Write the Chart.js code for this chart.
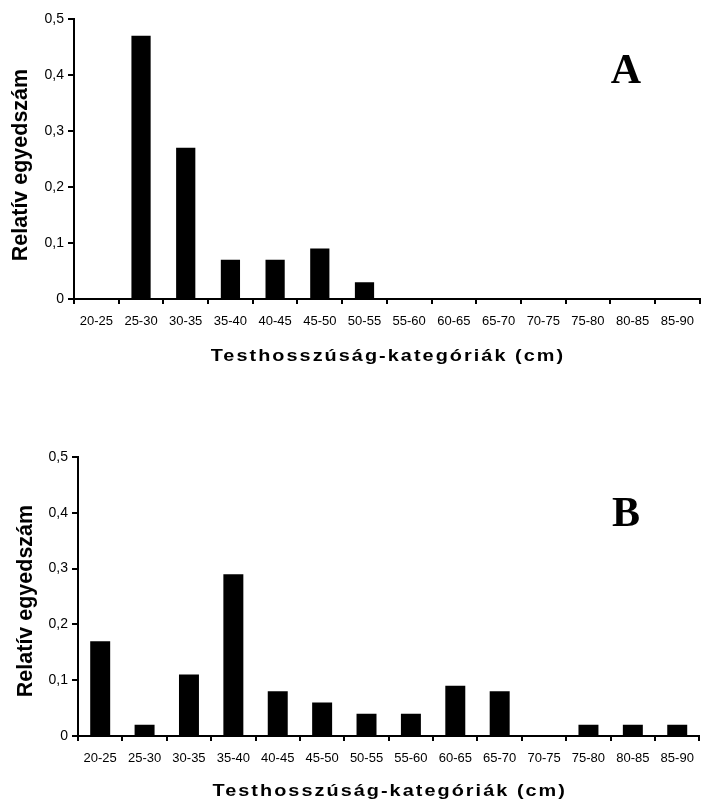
<!DOCTYPE html>
<html>
<head>
<meta charset="utf-8">
<script src="https://cdn.jsdelivr.net/npm/chart.js@4.4.1/dist/chart.umd.min.js"></script>
<style>
  html, body { margin: 0; padding: 0; background: #fff; }
  .panel { position: absolute; left: 0; width: 704px; }
  #panelA { top: 0; height: 400px; }
  #panelB { top: 400px; height: 405px; }
</style>
</head>
<body>
<div class="panel" id="panelA"><canvas id="bar_a"></canvas></div>
<div class="panel" id="panelB"><canvas id="bar_b"></canvas></div>
<script>
const ctx_a = 'bar_a';
const ctx_b = 'bar_b';

// testhossz kategóriák (cm)
var kategoriak = ["20-25", "25-30", "30-35", "35-40", "40-45", "45-50", "50-55",
                  "55-60", "60-65", "65-70", "70-75", "75-80", "80-85", "85-90"];
// relatív egyedszám, A panel
var relA = [0, 0.47, 0.27, 0.07, 0.07, 0.09, 0.03, 0, 0, 0, 0, 0, 0, 0];
// relatív egyedszám, B panel
var relB = [0.17, 0.02, 0.11, 0.29, 0.08, 0.06, 0.04, 0.04, 0.09, 0.08, 0, 0.02, 0.02, 0.02];
var yMax = 0.5;
var yStep = 0.1;
var xCim = "Testhosszúság-kategóriák (cm)";
var yCim = "Relatív egyedszám";

Chart.defaults.font.family = "'Liberation Sans', Arial, sans-serif";
Chart.defaults.color = "#000";

// panel betű (A/B), tengelyfeliratok
const panelText = {
    id: 'panelText',
    afterDraw(chart, args, opts) {
        const c = chart.ctx;
        const area = chart.chartArea;
        c.save();
        c.fillStyle = "#000";
        c.textBaseline = "alphabetic";
        c.font = "bold 42px 'Liberation Serif', 'Times New Roman', serif";
        c.textAlign = "center";
        c.fillText(opts.letter, opts.letterX, opts.letterY);

        // y felirat, függőlegesen
        c.save();
        c.font = "bold 21.5px 'Liberation Sans', Arial, sans-serif";
        c.translate(opts.yTitleX, opts.yTitleY);
        c.rotate(-Math.PI / 2);
        c.fillText(yCim, 0, 0);
        c.restore();

        // x felirat, kissé széthúzva
        c.font = "bold 16px 'Liberation Sans', Arial, sans-serif";
        c.letterSpacing = opts.spacing + "px";
        c.textAlign = "left";
        const w = (c.measureText(xCim).width - opts.spacing) * opts.stretch;
        const cx = (area.left + area.right) / 2;
        c.translate(cx - w / 2, opts.titleY);
        c.scale(opts.stretch, 1);
        c.fillText(xCim, 0, 0);
        c.restore();
    }
};

function yLabel(v) {
    if (v === 0) return "0";
    return v.toFixed(1).replace(".", ",");
}

function makeOptions(p) {
    return {
        responsive: true,
        maintainAspectRatio: false,
        animation: false,
        layout: {
            padding: { left: 0, right: p.right, top: p.top, bottom: 0 }
        },
        plugins: {
            legend: { display: false },
            tooltip: { enabled: false },
            panelText: {
                letter: p.letter,
                letterX: 626,
                letterY: p.letterY,
                titleY: p.titleY,
                yTitleX: p.yTitleX,
                yTitleY: p.yTitleY,
                spacing: 1.65,
                stretch: 1.24
            }
        },
        scales: {
            x: {
                afterFit: (s) => { s.height = p.xHeight; },
                grid: {
                    offset: true,
                    drawOnChartArea: false,
                    drawTicks: true,
                    tickLength: 5,
                    color: "#000",
                    lineWidth: 2
                },
                border: { display: true, color: "#000", width: 2 },
                ticks: {
                    font: { size: 13 },
                    padding: 10,
                    maxRotation: 0,
                    autoSkip: false
                }
            },
            y: {
                min: 0,
                max: yMax,
                afterFit: (s) => { s.width = p.yWidth; },
                grid: {
                    drawOnChartArea: false,
                    drawTicks: true,
                    tickLength: 6,
                    color: "#000",
                    lineWidth: 2
                },
                border: { display: true, color: "#000", width: 2 },
                ticks: {
                    stepSize: yStep,
                    font: { size: 14 },
                    padding: 4,
                    callback: yLabel
                }
            }
        }
    };
}

const bar_a = new Chart(ctx_a, {
    type: 'bar',
    data: {
        labels: kategoriak,
        datasets: [{
            data: relA,
            backgroundColor: "#000",
            borderWidth: 0,
            barPercentage: 0.43,
            categoryPercentage: 1
        }]
    },
    options: makeOptions({
        right: 1, top: 19, xHeight: 101, yWidth: 74,
        yTitleX: 27, yTitleY: 165,
        letter: "A", letterY: 83, titleY: 361
    }),
    plugins: [panelText]
});

const bar_b = new Chart(ctx_b, {
    type: 'bar',
    data: {
        labels: kategoriak,
        datasets: [{
            data: relB,
            backgroundColor: "#000",
            borderWidth: 0,
            barPercentage: 0.45,
            categoryPercentage: 1
        }]
    },
    options: makeOptions({
        right: 4, top: 57, xHeight: 69, yWidth: 78,
        yTitleX: 32, yTitleY: 201,
        letter: "B", letterY: 126, titleY: 396
    }),
    plugins: [panelText]
});
</script>
</body>
</html>
